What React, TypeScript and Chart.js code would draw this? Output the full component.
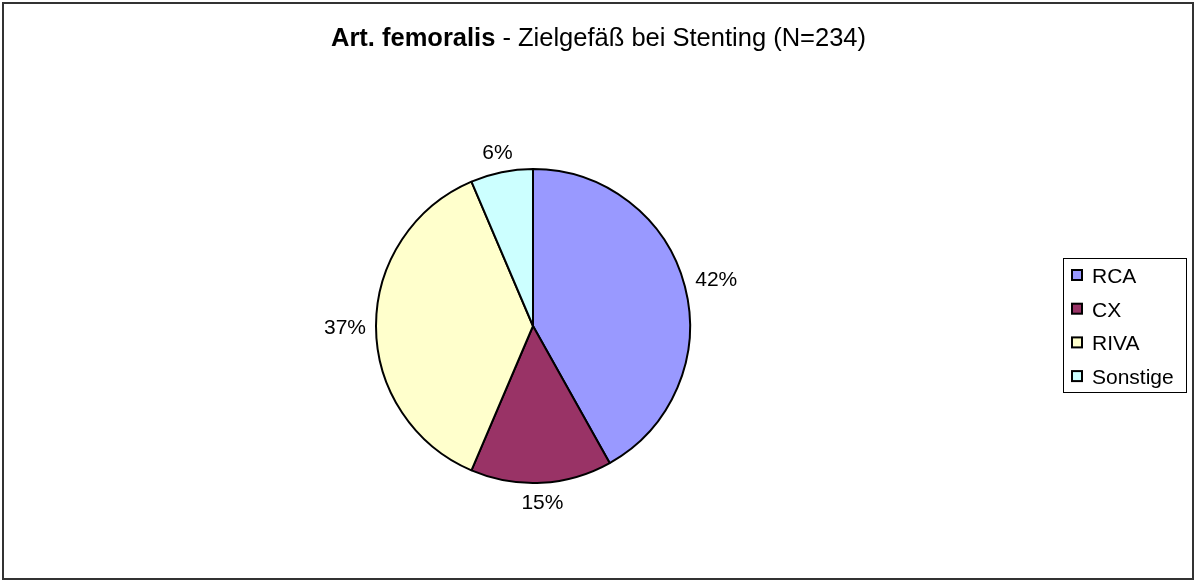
import React, { useEffect, useRef } from "react";
import { Chart, registerables } from "chart.js";

Chart.register(...registerables);

const titleBold = "Art. femoralis";
const titleRest = " - Zielgefäß bei Stenting (N=234)";
const categories = ["RCA", "CX", "RIVA", "Sonstige"];
const counts = [98, 34, 87, 15];
const percentLabels = ["42%", "15%", "37%", "6%"];
const colors = ["#9999FF", "#993366", "#FFFFCC", "#CCFFFF"];

const FONT = "'Liberation Sans', Arial, sans-serif";

const decorPlugin = {
  id: "decor",
  afterDraw(chart: any) {
    const ctx = chart.ctx as CanvasRenderingContext2D;
    ctx.save();
    // outer frame
    ctx.strokeStyle = "#333333";
    ctx.lineWidth = 2;
    ctx.strokeRect(3, 3, 1190, 576);

    // title
    ctx.fillStyle = "#000";
    ctx.textBaseline = "alphabetic";
    const tSize = 25.5;
    ctx.font = `bold ${tSize}px ${FONT}`;
    const wB = ctx.measureText(titleBold).width;
    ctx.font = `${tSize}px ${FONT}`;
    const wR = ctx.measureText(titleRest).width;
    const x0 = 598.5 - (wB + wR) / 2;
    ctx.font = `bold ${tSize}px ${FONT}`;
    ctx.textAlign = "left";
    ctx.fillText(titleBold, x0, 46);
    ctx.font = `${tSize}px ${FONT}`;
    ctx.fillText(titleRest, x0 + wB, 46);

    // percentage labels outside the slices
    const meta = chart.getDatasetMeta(0);
    ctx.font = `21px ${FONT}`;
    ctx.textAlign = "center";
    meta.data.forEach((arc: any, i: number) => {
      const p = arc.getProps(["x", "y", "startAngle", "endAngle", "outerRadius"], true);
      const mid = (p.startAngle + p.endAngle) / 2;
      const dx = Math.cos(mid);
      const dy = Math.sin(mid);
      const w = ctx.measureText(percentLabels[i]).width;
      const h = 16;
      const half = Math.abs(dx) * w / 2 + Math.abs(dy) * h / 2;
      const r = p.outerRadius + 10 + half;
      ctx.fillText(percentLabels[i], p.x + dx * r, p.y + dy * r + 7.5);
    });

    // legend
    ctx.strokeStyle = "#000";
    ctx.lineWidth = 1;
    ctx.strokeRect(1063.5, 258.5, 123, 134);
    ctx.font = `21px ${FONT}`;
    ctx.textAlign = "left";
    categories.forEach((c, i) => {
      const base = 283 + i * 33.7;
      const cy = base - 8;
      ctx.fillStyle = colors[i];
      ctx.fillRect(1072, cy - 5, 10, 10);
      ctx.strokeStyle = "#000";
      ctx.lineWidth = 2;
      ctx.strokeRect(1072, cy - 5, 10, 10);
      ctx.fillStyle = "#000";
      ctx.fillText(c, 1092, base);
    });
    ctx.restore();
  },
};

export default function App() {
  const ref = useRef<HTMLCanvasElement>(null);
  useEffect(() => {
    document.body.style.margin = "0";
    const chart = new Chart(ref.current!, {
      type: "pie",
      data: {
        labels: categories,
        datasets: [
          {
            data: counts,
            backgroundColor: colors,
            borderColor: "#000",
            borderWidth: 2,
            borderAlign: "center",
          },
        ],
      },
      options: {
        animation: false,
        responsive: false,
        radius: 157,
        layout: { padding: { left: 200, right: 329, top: 150, bottom: 79 } },
        plugins: { legend: { display: false }, tooltip: { enabled: false }, title: { display: false } },
      },
      plugins: [decorPlugin],
    });
    return () => chart.destroy();
  }, []);
  return (
    <div style={{ position: "absolute", left: 0, top: 0, width: 1195, height: 581, background: "#fff" }}>
      <canvas ref={ref} width={1195} height={581} />
    </div>
  );
}
